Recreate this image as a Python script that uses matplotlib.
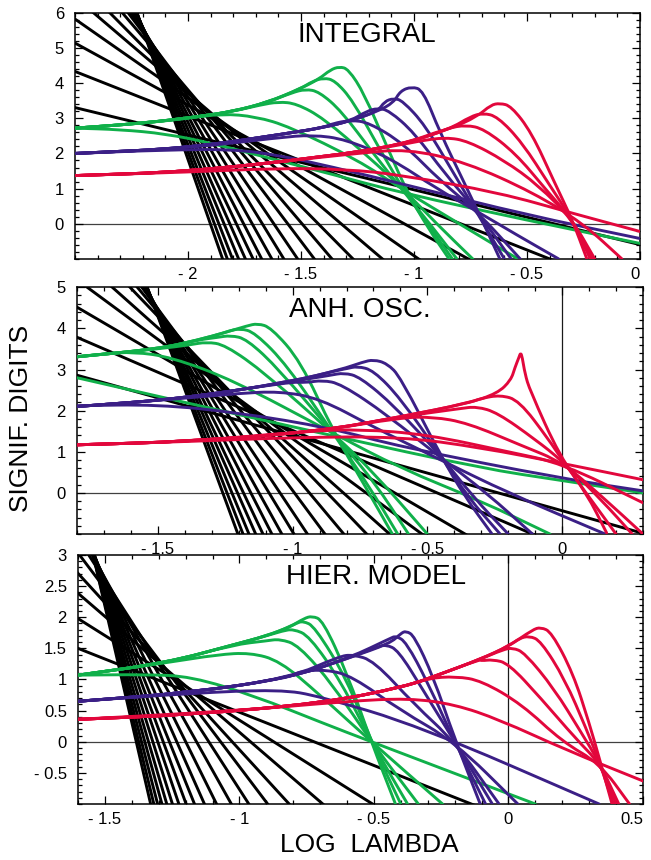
import numpy as np
import matplotlib
matplotlib.use('Agg')
import matplotlib.pyplot as plt
from matplotlib.path import Path
from matplotlib.patches import PathPatch
from matplotlib.ticker import MultipleLocator, FixedLocator

plt.rcParams['font.family'] = ['Liberation Sans', 'DejaVu Sans']

GREEN = '#10b04a'
PURPLE = '#3b1f86'
RED = '#e2073c'

# ---------------- INTEGRAL ----------------
int_blk_slope = [1.56, 2.54, 3.53, 4.49, 5.48, 6.51, 7.55, 8.5, 9.5, 10.5, 11.5,
                 12.5, 13.5, 14.5, 15.5, 16.5, 17.5, 18.5]
int_blk_bottom = [0.26, -0.40, -0.76, -0.98, -1.14, -1.27, -1.363, -1.441, -1.515,
                  -1.576, -1.629, -1.674, -1.712, -1.746, -1.776, -1.803, -1.826, -1.847]

int_grn_trunk_x = [-2.5, -2.2, -1.95, -1.8, -1.65, -1.5, -1.42, -1.36]
int_grn_trunk_y = [2.72, 2.86, 3.05, 3.2, 3.45, 3.85, 4.12, 4.38]
int_grn_first = [(-2.5, 2.72), (-2.3, 2.68), (-2.1, 2.56), (-1.9, 2.3), (-1.6, 1.8),
                 (-1.37, 1.42), (-1.05, 0.87), (-0.5, 0.1), (0.0, -0.56)]
int_grn_tails = [
    [(-2.0, 3.0), (-1.85, 3.13), (-1.7, 3.05), (-1.55, 2.76), (-1.25, 1.82), (-1.05, 0.97), (-0.8, 0.0), (-0.54, -1.0)],
    [(-1.68, 3.38), (-1.6, 3.47), (-1.52, 3.42), (-1.4, 3.0), (-1.2, 1.9), (-1.05, 1.0), (-0.9, 0.0), (-0.74, -1.0)],
    [(-1.54, 3.73), (-1.48, 3.83), (-1.42, 3.76), (-1.32, 3.2), (-1.18, 2.0), (-1.05, 0.95), (-0.93, 0.0), (-0.81, -1.0)],
    [(-1.45, 4.05), (-1.40, 4.15), (-1.35, 4.08), (-1.27, 3.5), (-1.15, 2.1), (-1.04, 0.9), (-0.94, 0.0), (-0.83, -1.0)],
    [(-1.37, 4.38), (-1.33, 4.47), (-1.29, 4.4), (-1.22, 3.7), (-1.12, 2.2), (-1.03, 0.9), (-0.94, -0.1), (-0.845, -1.0)],
]

int_pur_trunk_x = [-2.5, -2.0, -1.55, -1.4, -1.28, -1.16, -1.09, -1.04]
int_pur_trunk_y = [2.0, 2.15, 2.58, 2.74, 2.93, 3.2, 3.45, 3.74]
int_pur_first = [(-2.5, 2.0), (-2.1, 2.1), (-1.8, 2.12), (-1.6, 1.95), (-1.37, 1.63),
                 (-1.0, 1.05), (-0.5, 0.25), (0.0, -0.42)]
int_pur_tails = [
    [(-1.6, 2.45), (-1.45, 2.53), (-1.3, 2.4), (-1.1, 1.85), (-0.9, 1.0), (-0.72, 0.35), (-0.55, -0.3), (-0.36, -1.0)],
    [(-1.36, 2.85), (-1.28, 2.95), (-1.2, 2.88), (-1.05, 2.3), (-0.88, 1.2), (-0.72, 0.35), (-0.53, -1.0)],
    [(-1.21, 3.2), (-1.16, 3.29), (-1.11, 3.22), (-1.0, 2.6), (-0.86, 1.4), (-0.72, 0.35), (-0.57, -1.0)],
    [(-1.13, 3.48), (-1.09, 3.57), (-1.05, 3.5), (-0.95, 2.8), (-0.83, 1.5), (-0.72, 0.3), (-0.6, -1.0)],
    [(-1.06, 3.78), (-1.01, 3.9), (-0.96, 3.8), (-0.885, 2.6), (-0.78, 1.2), (-0.695, 0.05), (-0.62, -1.0)],
]

int_red_trunk_x = [-2.5, -2.0, -1.4, -1.06, -0.84, -0.72, -0.66]
int_red_trunk_y = [1.37, 1.48, 1.9, 2.24, 2.7, 3.05, 3.3]
int_red_first = [(-2.5, 1.37), (-2.0, 1.47), (-1.6, 1.58), (-1.3, 1.55), (-1.06, 1.39),
                 (-0.62, 0.88), (-0.3, 0.3), (0.0, -0.22)]
int_red_tails = [
    [(-1.25, 2.0), (-1.03, 2.13), (-0.77, 1.75), (-0.47, 0.88), (-0.25, 0.0), (-0.08, -1.0)],
    [(-0.98, 2.35), (-0.86, 2.46), (-0.76, 2.35), (-0.6, 1.8), (-0.45, 1.1), (-0.3, 0.12), (-0.2, -1.0)],
    [(-0.85, 2.72), (-0.77, 2.81), (-0.69, 2.7), (-0.55, 2.0), (-0.42, 1.0), (-0.3, 0.12), (-0.21, -1.0)],
    [(-0.75, 3.05), (-0.695, 3.15), (-0.63, 3.05), (-0.52, 2.3), (-0.4, 1.1), (-0.3, 0.12), (-0.22, -1.0)],
    [(-0.66, 3.38), (-0.62, 3.43), (-0.57, 3.35), (-0.48, 2.6), (-0.38, 1.2), (-0.3, 0.12), (-0.235, -1.0)],
]

# ---------------- ANH. OSC. ----------------
anh_blk_slope = [1.83, 2.83, 3.83, 4.83, 5.83, 6.83, 7.83, 8.83, 9.83, 10.83, 11.83,
                 12.83, 13.83, 14.83, 15.83, 16.83, 17.83]
anh_blk_bottom = [0.31, -0.11, -0.36, -0.52, -0.64, -0.725, -0.81, -0.88, -0.945, -0.995,
                  -1.04, -1.077, -1.11, -1.137, -1.162, -1.184, -1.203]

anh_grn_trunk_x = [-1.8, -1.5, -1.35, -1.25, -1.17]
anh_grn_trunk_y = [3.31, 3.5, 3.72, 3.9, 4.05]
anh_grn_first = [(-1.8, 2.8), (-1.38, 2.17), (-0.86, 1.4), (-0.3, 0.6), (0.0, 0.3), (0.3, 0.0)]
anh_grn_tails = [
    [(-1.7, 3.38), (-1.59, 3.43), (-1.45, 3.3), (-1.22, 2.74), (-0.85, 1.45), (-0.6, 0.6), (-0.3, -0.2), (-0.045, -1.0)],
    [(-1.38, 3.6), (-1.32, 3.67), (-1.25, 3.6), (-1.1, 2.9), (-0.85, 1.45), (-0.7, 0.5), (-0.5, -1.0)],
    [(-1.28, 3.78), (-1.23, 3.83), (-1.17, 3.74), (-1.05, 3.0), (-0.85, 1.45), (-0.7, 0.3), (-0.57, -1.0)],
    [(-1.24, 3.93), (-1.195, 4.0), (-1.14, 3.9), (-1.02, 3.1), (-0.85, 1.45), (-0.72, 0.2), (-0.61, -1.0)],
    [(-1.17, 4.06), (-1.13, 4.12), (-1.08, 4.02), (-0.97, 3.2), (-0.85, 1.5), (-0.73, 0.15), (-0.63, -1.0)],
]

anh_pur_trunk_x = [-1.8, -1.4, -1.01, -0.82, -0.74]
anh_pur_trunk_y = [2.1, 2.3, 2.7, 3.0, 3.14]
anh_pur_first = [(-1.8, 2.12), (-1.5, 2.15), (-1.2, 1.95), (-0.86, 1.58), (-0.6, 1.12),
                 (0.0, 0.35), (0.3, 0.05)]
anh_pur_tails = [
    [(-1.2, 2.42), (-1.05, 2.47), (-0.9, 2.3), (-0.7, 1.6), (-0.45, 0.8), (-0.2, 0.0), (0.16, -1.0)],
    [(-0.95, 2.68), (-0.89, 2.74), (-0.82, 2.65), (-0.65, 1.9), (-0.45, 0.85), (-0.28, 0.0), (-0.11, -1.0)],
    [(-0.86, 2.86), (-0.81, 2.92), (-0.75, 2.82), (-0.62, 2.1), (-0.45, 0.9), (-0.33, -0.1), (-0.2, -1.0)],
    [(-0.8, 3.02), (-0.76, 3.08), (-0.7, 2.98), (-0.6, 2.3), (-0.45, 0.9), (-0.35, -0.1), (-0.23, -1.0)],
    [(-0.74, 3.18), (-0.70, 3.24), (-0.65, 3.15), (-0.6, 2.82), (-0.45, 0.9), (-0.36, -0.1), (-0.26, -1.0)],
]

anh_red_trunk_x = [-1.8, -1.38, -0.9, -0.6, -0.35, -0.24, -0.19]
anh_red_trunk_y = [1.17, 1.25, 1.5, 1.85, 2.18, 2.42, 2.74]
anh_red_first = [(-1.8, 1.17), (-1.38, 1.25), (-1.0, 1.35), (-0.6, 1.37), (-0.3, 1.1),
                 (0.0, 0.72), (0.3, 0.32)]
anh_red_tails = [
    [(-0.95, 1.5), (-0.75, 1.55), (-0.5, 1.42), (-0.2, 1.0), (0.0, 0.72), (0.3, -0.24)],
    [(-0.6, 1.83), (-0.48, 1.85), (-0.35, 1.7), (-0.15, 1.15), (0.0, 0.75), (0.15, -0.1), (0.3, -1.0)],
    [(-0.38, 2.05), (-0.317, 2.1), (-0.24, 1.95), (-0.1, 1.3), (0.0, 0.78), (0.15, -0.2), (0.26, -1.0)],
    [(-0.3, 2.3), (-0.23, 2.38), (-0.16, 2.25), (-0.05, 1.3), (0.0, 0.8), (0.1, -0.1), (0.2, -1.0)],
    [(-0.175, 3.05), (-0.16, 3.3), (-0.154, 3.41), (-0.148, 3.3), (-0.138, 2.9), (-0.12, 2.5),
     (-0.008, 0.88), (0.09, 0.0), (0.165, -0.97)],
]

# ---------------- HIER. MODEL ----------------
hie_blk_slope = [1.71, 2.72, 3.72, 4.72, 5.72, 6.72, 7.72, 8.72, 9.72, 10.72, 11.72,
                 12.72, 13.72, 14.72, 15.72, 16.72, 17.72, 18.72]
hie_blk_bottom = [-0.138, -0.505, -0.69, -0.815, -0.895, -0.965, -1.03, -1.085, -1.13,
                  -1.167, -1.198, -1.225, -1.249, -1.27, -1.288, -1.304, -1.318, -1.33]

hie_grn_trunk_x = [-1.6, -1.27, -1.02, -0.9, -0.81]
hie_grn_trunk_y = [1.07, 1.27, 1.56, 1.7, 1.85]
hie_grn_first = [(-1.6, 1.07), (-1.35, 1.08), (-1.18, 1.05), (-0.94, 0.73), (-0.69, 0.3),
                 (-0.51, 0.0), (0.1, -1.0)]
hie_grn_tails = [
    [(-1.08, 1.4), (-0.96, 1.43), (-0.85, 1.3), (-0.7, 0.75), (-0.51, 0.0), (-0.245, -1.0)],
    [(-0.9, 1.62), (-0.85, 1.65), (-0.78, 1.55), (-0.65, 0.9), (-0.51, 0.0), (-0.335, -1.0)],
    [(-0.84, 1.78), (-0.80, 1.81), (-0.74, 1.7), (-0.62, 0.95), (-0.51, 0.0), (-0.375, -1.0)],
    [(-0.79, 1.9), (-0.764, 1.94), (-0.72, 1.85), (-0.6, 1.0), (-0.51, 0.0), (-0.4, -1.0)],
    [(-0.76, 1.98), (-0.73, 2.02), (-0.69, 1.95), (-0.6, 1.1), (-0.51, 0.0), (-0.42, -1.0)],
]

hie_pur_trunk_x = [-1.6, -1.18, -0.81, -0.59, -0.44]
hie_pur_trunk_y = [0.65, 0.79, 1.03, 1.35, 1.58]
hie_pur_first = [(-1.6, 0.65), (-1.18, 0.78), (-0.85, 0.84), (-0.7, 0.73), (-0.33, 0.25),
                 (0.337, -1.0)]
hie_pur_tails = [
    [(-0.78, 1.13), (-0.677, 1.16), (-0.58, 1.05), (-0.4, 0.5), (-0.2, 0.0), (0.035, -1.0)],
    [(-0.63, 1.37), (-0.578, 1.4), (-0.5, 1.3), (-0.35, 0.6), (-0.2, 0.0), (-0.035, -1.0)],
    [(-0.49, 1.52), (-0.455, 1.56), (-0.41, 1.47), (-0.32, 0.85), (-0.2, 0.0), (-0.06, -1.0)],
    [(-0.44, 1.66), (-0.418, 1.70), (-0.38, 1.6), (-0.3, 0.95), (-0.2, 0.0), (-0.085, -1.0)],
    [(-0.40, 1.74), (-0.381, 1.78), (-0.35, 1.7), (-0.28, 1.05), (-0.2, 0.05), (-0.105, -1.0)],
]

hie_red_trunk_x = [-1.6, -1.184, -0.69, -0.38, -0.257, -0.108, 0.003, 0.09]
hie_red_trunk_y = [0.36, 0.435, 0.62, 0.89, 1.08, 1.32, 1.54, 1.76]
hie_red_first = [(-1.6, 0.36), (-1.0, 0.5), (-0.6, 0.65), (-0.37, 0.7), (-0.2, 0.6),
                 (-0.034, 0.355), (0.213, -0.13), (0.5, -0.63)]
hie_red_tails = [
    [(-0.3, 1.02), (-0.195, 1.05), (-0.1, 0.98), (0.05, 0.6), (0.2, 0.0), (0.34, -0.35), (0.45, -1.0)],
    [(-0.1, 1.3), (-0.059, 1.32), (0.0, 1.26), (0.12, 0.7), (0.25, 0.05), (0.34, -0.35), (0.41, -1.0)],
    [(-0.02, 1.48), (0.015, 1.51), (0.06, 1.43), (0.17, 0.85), (0.27, 0.15), (0.34, -0.35), (0.4, -1.0)],
    [(0.04, 1.66), (0.077, 1.70), (0.12, 1.62), (0.21, 1.0), (0.29, 0.2), (0.34, -0.35), (0.39, -1.0)],
    [(0.09, 1.8), (0.12, 1.84), (0.16, 1.76), (0.24, 1.1), (0.3, 0.3), (0.34, -0.3), (0.385, -1.0)],
]


def smooth_curve(ax, pts, color, lw=2.1, z=3):
    # quadratic bezier through the midpoints, vertices act as control points
    p = np.asarray(pts, float)
    mids = (p[:-1] + p[1:]) / 2
    verts = [p[0], mids[0]]
    codes = [Path.MOVETO, Path.LINETO]
    for i in range(1, len(p) - 1):
        verts += [p[i], mids[i]]
        codes += [Path.CURVE3, Path.CURVE3]
    verts.append(p[-1])
    codes.append(Path.LINETO)
    ax.add_patch(PathPatch(Path(verts, codes), fill=False, ec=color, lw=lw,
                           capstyle='round', joinstyle='round', zorder=z))


def family(ax, tx, ty, first, tails, color, z):
    smooth_curve(ax, first, color, z=z)
    for tail in tails:
        x0 = tail[0][0]
        pts = [(a, b) for a, b in zip(tx, ty) if a < x0 - 1e-6] + list(tail)
        smooth_curve(ax, pts, color, z=z)


def fmt(v):
    if v == 0:
        return '0'
    s = '%g' % abs(v)
    return ('- ' + s) if v < 0 else s


def panel(ax, xlim, ylim, xt, yt, yminor, title, tpos, slopes, bottoms, fams, vline):
    ax.set_xlim(*xlim)
    ax.set_ylim(*ylim)
    x_l = xlim[0] - 0.1
    for s, xb in zip(slopes, bottoms):
        ax.plot([x_l, xb + 0.05], [ylim[0] + s * (xb - x_l), ylim[0] - s * 0.05],
                color='black', lw=2.1, solid_capstyle='butt', zorder=2)
    for f, c, z in zip(fams, [GREEN, PURPLE, RED], [3, 4, 5]):
        family(ax, *f, c, z)
    ax.axhline(0, color='0.25', lw=0.9, zorder=1)
    if vline:
        ax.axvline(0, color='0.1', lw=0.9, zorder=1)
    ax.xaxis.set_major_locator(FixedLocator(xt))
    ax.yaxis.set_major_locator(FixedLocator(yt))
    ax.set_xticklabels([fmt(v) for v in xt])
    ax.set_yticklabels([fmt(v) for v in yt])
    ax.xaxis.set_minor_locator(MultipleLocator(0.1))
    ax.yaxis.set_minor_locator(MultipleLocator(yminor))
    ax.tick_params(which='both', direction='in', top=True, right=True, labelsize=12,
                   width=0.9)
    ax.tick_params(which='major', length=6)
    ax.tick_params(axis='x', which='major', pad=6)
    ax.tick_params(axis='y', which='major', pad=8)
    ax.tick_params(which='minor', length=3)
    for sp in ax.spines.values():
        sp.set_linewidth(1.1)
    if xt[-1] == xlim[1]:
        ax.get_xticklabels()[-1].set_horizontalalignment('right')
    ax.text(tpos[0], tpos[1], title, transform=ax.transAxes, ha='center', va='center',
            fontsize=20)


fig = plt.figure(figsize=(6.51, 8.60), dpi=100)
ax1 = fig.add_axes([0.1152, 0.699, 0.8678, 0.286])
ax2 = fig.add_axes([0.1183, 0.379, 0.8694, 0.287])
ax3 = fig.add_axes([0.1198, 0.0651, 0.8679, 0.2896])

panel(ax1, (-2.5, 0), (-1, 6), [-2, -1.5, -1, -0.5, 0], [0, 1, 2, 3, 4, 5, 6], 0.2,
      'INTEGRAL', (0.517, 0.91), int_blk_slope, int_blk_bottom,
      [(int_grn_trunk_x, int_grn_trunk_y, int_grn_first, int_grn_tails),
       (int_pur_trunk_x, int_pur_trunk_y, int_pur_first, int_pur_tails),
       (int_red_trunk_x, int_red_trunk_y, int_red_first, int_red_tails)], False)

panel(ax2, (-1.8, 0.3), (-1, 5), [-1.5, -1, -0.5, 0], [0, 1, 2, 3, 4, 5], 0.2,
      'ANH. OSC.', (0.50, 0.907), anh_blk_slope, anh_blk_bottom,
      [(anh_grn_trunk_x, anh_grn_trunk_y, anh_grn_first, anh_grn_tails),
       (anh_pur_trunk_x, anh_pur_trunk_y, anh_pur_first, anh_pur_tails),
       (anh_red_trunk_x, anh_red_trunk_y, anh_red_first, anh_red_tails)], True)

panel(ax3, (-1.6, 0.5), (-1, 3), [-1.5, -1, -0.5, 0, 0.5],
      [-0.5, 0, 0.5, 1, 1.5, 2, 2.5, 3], 0.1,
      'HIER. MODEL', (0.527, 0.912), hie_blk_slope, hie_blk_bottom,
      [(hie_grn_trunk_x, hie_grn_trunk_y, hie_grn_first, hie_grn_tails),
       (hie_pur_trunk_x, hie_pur_trunk_y, hie_pur_first, hie_pur_tails),
       (hie_red_trunk_x, hie_red_trunk_y, hie_red_first, hie_red_tails)], True)

fig.text(0.033, 0.514, 'SIGNIF. DIGITS', rotation=90, ha='center', va='center', fontsize=19)
fig.text(0.567, 0.0174, 'LOG  LAMBDA', ha='center', va='center', fontsize=19)

fig.savefig('out.png', dpi=100)
